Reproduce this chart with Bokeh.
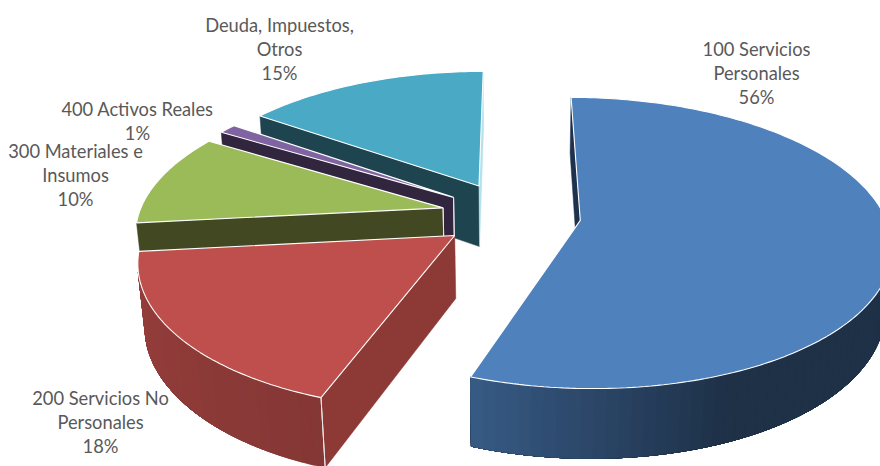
import numpy as np
from bokeh.core.properties import value
from bokeh.embed import file_html
from bokeh.models import ColumnDataSource, Range1d
from bokeh.plotting import figure
from bokeh.resources import INLINE

# Budget shares in percent, clockwise from twelve o'clock.
categories = ["100 Servicios Personales", "200 Servicios No Personales",
              "300 Materiales e Insumos", "400 Activos Reales",
              "Deuda, Impuestos, Otros"]
shares = [55.5, 17.8, 10.4, 1.1, 15.2]
label_lines = [["100 Servicios", "Personales"], ["200 Servicios No", "Personales"],
               ["300 Materiales e", "Insumos"], ["400 Activos Reales"],
               ["Deuda, Impuestos,", "Otros"]]
label_x = [756, 100, 75, 137, 279]
label_top = [48, 397, 150, 108, 24]

top_colors = ["#4F81BD", "#BE4F4C", "#9BBB59", "#8064A2", "#4AAAC5"]
start_face = ["#1E324E", "#8D3936", "#424821", "#32263F", "#1E4450"]
end_face = ["#1E324E", "#8D3936", "#424821", "#32263F", "#B4E1EB"]
explode = [0.228, 0.232, 0.232, 0.232, 0.24]

# Camera of the 3-D pie: a unit disc seen from above, in perspective.
CX, CY, SX = 511.0, 214.4, 304.5
SIN_E, COS_E, DIST = 0.461, 0.887, 5.76
DEPTH = 0.234


def project(x, y, z):
    w = 1 + (y * COS_E - z * SIN_E) / DIST
    return CX + SX * x / w, CY - SX * (y * SIN_E + z * COS_E) / w


def signed_area(px, py):
    return 0.5 * sum(px[i] * py[(i + 1) % len(px)] - px[(i + 1) % len(px)] * py[i]
                     for i in range(len(px)))


def shade(hex_color, k):
    r, g, b = (int(hex_color[i:i + 2], 16) for i in (1, 3, 5))
    return "#%02x%02x%02x" % (int(r * k), int(g * k), int(b * k))


def wall_level(deg):
    return float(np.interp(deg, [158, 199, 263], [0.38, 0.70, 0.80]))


xs, ys, fills, strokes, widths = [], [], [], [], []


def add(px, py, fill, stroke, width):
    xs.append(list(px))
    ys.append(list(py))
    fills.append(fill)
    strokes.append(stroke)
    widths.append(width)


bounds = np.concatenate([[0], np.cumsum(shares)]) * 3.6

# The back slices go first so that the nearer ones paint over them.
for i in [4, 3, 2, 1, 0]:
    a0, a1 = bounds[i], bounds[i + 1]
    mid = np.radians((a0 + a1) / 2)
    ox, oy = explode[i] * np.sin(mid), explode[i] * np.cos(mid)
    degs = np.linspace(a0, a1, max(int(a1 - a0), 3) + 1)
    rx = ox + np.sin(np.radians(degs))
    ry = oy + np.cos(np.radians(degs))

    tx, ty = project(rx, ry, 0.0)
    bx, by = project(rx, ry, -DEPTH)
    atx, aty = project(ox, oy, 0.0)
    abx, aby = project(ox, oy, -DEPTH)

    qx = [atx, tx[0], bx[0], abx]
    qy = [aty, ty[0], by[0], aby]
    if signed_area(qx, qy) < 0:
        add(qx, qy, start_face[i], start_face[i], 0.5)
    qx = [tx[-1], atx, abx, bx[-1]]
    qy = [ty[-1], aty, aby, by[-1]]
    if signed_area(qx, qy) < 0:
        add(qx, qy, end_face[i], end_face[i], 0.5)

    # Outer wall: every colour band reaches to the end of the visible run, so
    # the next band paints over it and no seams open between neighbours.
    seen = [j for j in range(len(degs) - 1)
            if signed_area([tx[j], tx[j + 1], bx[j + 1], bx[j]],
                           [ty[j], ty[j + 1], by[j + 1], by[j]]) < 0]
    if seen:
        last = seen[-1] + 1
        for j in seen[::2]:
            c = shade(top_colors[i], wall_level(degs[j] + 1))
            add([*tx[j:last + 1], *bx[j:last + 1][::-1]],
                [*ty[j:last + 1], *by[j:last + 1][::-1]], c, c, 0.4)

    add([atx, *tx], [aty, *ty], top_colors[i], "#ffffff", 1.1)

    # Bright crease where the cut face meets the rim or the hub.
    if i == 1:
        add([tx[0], bx[0]], [ty[0], by[0]], "#e8e8e8", "#e8e8e8", 1)
    if i in (2, 3):
        add([atx, abx], [aty, aby], "#e8e8e8", "#e8e8e8", 1)

p = figure(width=880, height=466, output_backend="svg", toolbar_location=None,
           x_range=Range1d(0, 880), y_range=Range1d(466, 0), min_border=0)
p.axis.visible = False
p.grid.visible = False
p.outline_line_color = None
p.background_fill_color = "#ffffff"

src = ColumnDataSource(dict(xs=xs, ys=ys, fill=fills, stroke=strokes, width=widths))
p.patches("xs", "ys", source=src, fill_color="fill", line_color="stroke", line_width="width")

tx_, ty_, tt_ = [], [], []
for lines, share, lx, ly in zip(label_lines, shares, label_x, label_top):
    for k, line in enumerate(lines + [f"{round(share)}%"]):
        tx_.append(lx)
        ty_.append(ly + 24.3 * k)
        tt_.append(line)
p.text(tx_, ty_, text=tt_, text_align="center", text_baseline="middle",
       text_color="#595959", text_font=value("Lato"), text_font_size="18.3px")

open("out.html", "w").write(file_html(p, INLINE))
